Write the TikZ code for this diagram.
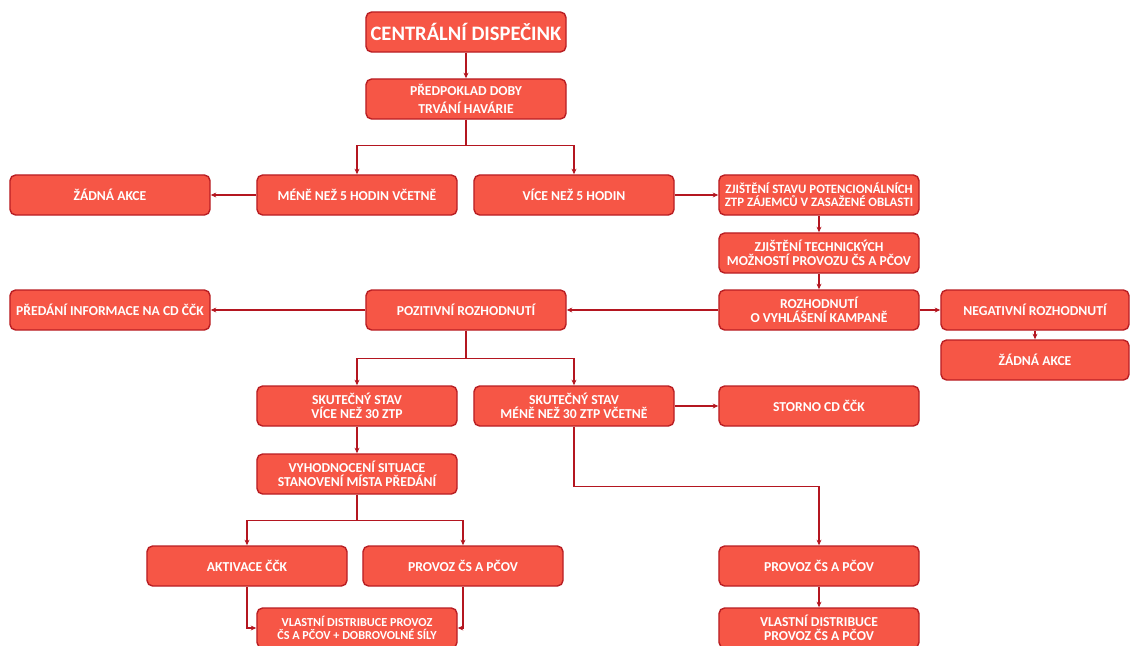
\documentclass[tikz,border=0pt]{standalone}
\usepackage{fontspec}
\setmainfont{Carlito}
\usepackage{tikz}
\usetikzlibrary{arrows.meta, positioning}
\definecolor{boxred}{RGB}{246,86,70}
\definecolor{edgered}{RGB}{185,30,35}
\definecolor{linered}{RGB}{180,22,32}

\begin{document}
\begin{tikzpicture}[
    x=0.025cm, y=-0.025cm,
    box/.style={draw=edgered, fill=boxred, rounded corners=4pt, line width=1pt, minimum width=5cm, minimum height=1cm, inner sep=2pt, font=\fontsize{9.7}{9.6}\selectfont\bfseries, text=white, align=center},
    arr/.style={draw=linered, line width=1pt, -{Stealth[length=4pt, width=3.5pt]}},
]
    \useasboundingbox (0,0) rectangle (1130,645);

    \node[box, font=\fontsize{14.6}{16}\selectfont\bfseries] (cd) at (466, 32) {CENTRÁLNÍ DISPEČINK};
    \node[box, font=\fontsize{9.7}{13}\selectfont\bfseries] (predpoklad) at (466, 99) {PŘEDPOKLAD DOBY\\TRVÁNÍ HAVÁRIE};

    \node[box] (zadna1) at (110, 195) {ŽÁDNÁ AKCE};
    \node[box] (mene5) at (357, 195) {MÉNĚ NEŽ 5 HODIN VČETNĚ};
    \node[box] (vice5) at (574, 195) {VÍCE NEŽ 5 HODIN};
    \node[box, font=\fontsize{9.1}{9.4}\selectfont\bfseries] (zjistStav) at (819, 195) {ZJIŠTĚNÍ STAVU POTENCIONÁLNÍCH\\ZTP ZÁJEMCŮ V ZASAŽENÉ OBLASTI};
    \node[box] (zjistTech) at (819, 253) {ZJIŠTĚNÍ TECHNICKÝCH\\MOŽNOSTÍ PROVOZU ČS A PČOV};

    \node[box] (predani) at (110, 310) {PŘEDÁNÍ INFORMACE NA CD ČČK};
    \node[box] (pozit) at (466, 310) {POZITIVNÍ ROZHODNUTÍ};
    \node[box] (rozhod) at (819, 310) {ROZHODNUTÍ\\O VYHLÁŠENÍ KAMPANĚ};
    \node[box, minimum width=4.7cm] (negat) at (1035, 310) {NEGATIVNÍ ROZHODNUTÍ};
    \node[box, minimum width=4.7cm] (zadna2) at (1035, 360) {ŽÁDNÁ AKCE};

    \node[box] (skutVice) at (357, 406) {SKUTEČNÝ STAV\\VÍCE NEŽ 30 ZTP};
    \node[box] (skutMene) at (574, 406) {SKUTEČNÝ STAV\\MÉNĚ NEŽ 30 ZTP VČETNĚ};
    \node[box] (storno) at (819, 406) {STORNO CD ČČK};

    \node[box] (vyhod) at (357, 474) {VYHODNOCENÍ SITUACE\\STANOVENÍ MÍSTA PŘEDÁNÍ};
    \node[box] (aktiv) at (247, 566) {AKTIVACE ČČK};
    \node[box] (provozL) at (463, 566) {PROVOZ ČS A PČOV};
    \node[box, font=\fontsize{8.7}{9}\selectfont\bfseries] (vlastniL) at (357, 628) {VLASTNÍ DISTRIBUCE PROVOZ\\ČS A PČOV + DOBROVOLNÉ SÍLY};

    \node[box] (provozR) at (819, 566) {PROVOZ ČS A PČOV};
    \node[box] (vlastniR) at (819, 628) {VLASTNÍ DISTRIBUCE\\PROVOZ ČS A PČOV};

    \draw[arr] (cd) -- (predpoklad);
    \draw[arr] (predpoklad.south) -- ++(0,26) -| (mene5.north);
    \draw[arr] (predpoklad.south) -- ++(0,26) -| (vice5.north);
    \draw[arr] (mene5) -- (zadna1);
    \draw[arr] (vice5) -- (zjistStav);
    \draw[arr] (zjistStav) -- (zjistTech);
    \draw[arr] (zjistTech) -- (rozhod);
    \draw[arr] (rozhod) -- (pozit);
    \draw[arr] (pozit) -- (predani);
    \draw[arr] (rozhod) -- (negat);
    \draw[arr] (negat) -- (zadna2);
    \draw[arr] (pozit.south) -- ++(0,28) -| (skutVice.north);
    \draw[arr] (pozit.south) -- ++(0,28) -| (skutMene.north);
    \draw[arr] (skutMene) -- (storno);
    \draw[arr] (skutVice) -- (vyhod);
    \draw[arr] (vyhod.south) -- ++(0,26) -| (aktiv.north);
    \draw[arr] (vyhod.south) -- ++(0,26) -| (provozL.north);
    \draw[arr] (aktiv.south) |- (vlastniL.west);
    \draw[arr] (provozL.south) |- (vlastniL.east);
    \draw[arr] (skutMene.south) -- ++(0,60) -| (provozR.north);
    \draw[arr] (provozR) -- (vlastniR);
\end{tikzpicture}
\end{document}
